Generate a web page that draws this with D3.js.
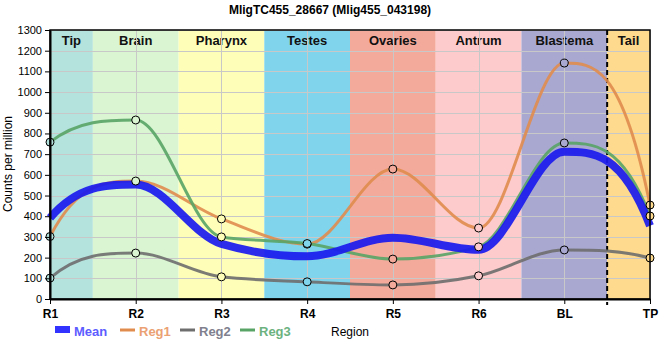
<!DOCTYPE html>
<html><head><meta charset="utf-8">
<script src="https://cdn.jsdelivr.net/npm/d3@7"></script>
<style>body{margin:0;background:#fff}svg{display:block;font-family:"Liberation Sans",Arial,sans-serif}</style>
</head><body><svg id="c" width="660" height="360"></svg>
<script>
const categories = ["R1","R2","R3","R4","R5","R6","BL","TP"];
const meanValues = [392, 553, 266, 206, 296, 238, 712, 354];
const reg1Values = [302, 570, 387, 265, 628, 343, 1140, 454];
const reg2Values = [101, 222, 107, 83, 68, 112, 237, 198];
const reg3Values = [758, 865, 300, 268, 193, 252, 754, 401];
const bandLabels = ["Tip","Brain","Pharynx","Testes","Ovaries","Antrum","Blastema","Tail"];
const bandColors = ["#b4e2dd","#d9f5d1","#fefeb9","#80d5ec","#f4aa9b","#fdcbcb","#a9a8d0","#fdda8d"];
const yTicks = d3.range(0, 1301, 100);
const title = "MligTC455_28667 (Mlig455_043198)";

const svg = d3.select("#c");
const L = 50, R = 650, T = 30, B = 299;
const x = d3.scalePoint().domain(categories).range([L, R]);
const y = d3.scaleLinear().domain([0, 1300]).range([B, T]);
const step = x.step();

// custom Hermite curve: monotone interior slopes, steep ends
function SteepEnds(context){ this._context = context; }
SteepEnds.prototype = {
  areaStart(){ this._line = 0; }, areaEnd(){ this._line = NaN; },
  lineStart(){ this._px = []; this._py = []; },
  point(a, b){ this._px.push(+a); this._py.push(+b); },
  lineEnd(){
    const X = this._px, Y = this._py, n = X.length, c = this._context;
    if (!n) return;
    c.moveTo(X[0], Y[0]);
    if (n < 2) return;
    const s = [], m = new Array(n);
    for (let i = 0; i < n - 1; i++) s.push((Y[i+1]-Y[i])/(X[i+1]-X[i]));
    const sg = v => v < 0 ? -1 : 1;
    for (let i = 1; i < n - 1; i++) {
      const h0 = X[i]-X[i-1], h1 = X[i+1]-X[i], s0 = s[i-1], s1 = s[i];
      const p = (s0*h1 + s1*h0)/(h0+h1);
      m[i] = (sg(s0)+sg(s1))*Math.min(Math.abs(s0), Math.abs(s1), 0.5*Math.abs(p)) || 0;
    }
    m[0] = n > 2 ? 3*s[0] - 2*m[1] : s[0];
    m[n-1] = n > 2 ? 3*s[n-2] - 2*m[n-2] : s[0];
    for (let i = 0; i < n - 1; i++) {
      const h = (X[i+1]-X[i])/3;
      c.bezierCurveTo(X[i]+h, Y[i]+m[i]*h, X[i+1]-h, Y[i+1]-m[i+1]*h, X[i+1], Y[i+1]);
    }
  }
};
const curve = ctx => new SteepEnds(ctx);

// bands
const bandG = svg.append("g");
categories.forEach((c, i) => {
  const x0 = Math.max(L, x(c) - step/2), x1 = Math.min(R, x(c) + step/2);
  bandG.append("rect").attr("x", x0).attr("y", T).attr("width", x1 - x0).attr("height", B - T).attr("fill", bandColors[i]);
  bandG.append("text").attr("x", (x0 + x1)/2).attr("y", 45).attr("text-anchor", "middle")
    .attr("font-size", 13).attr("font-weight", "bold").attr("fill", "#111").text(bandLabels[i]);
});

// grid
const grid = svg.append("g").attr("stroke", "#c8c8c8").attr("stroke-width", 1);
yTicks.forEach(t => grid.append("line").attr("x1", L).attr("x2", R).attr("y1", Math.round(y(t))+0.5).attr("y2", Math.round(y(t))+0.5));
categories.forEach(c => grid.append("line").attr("x1", Math.round(x(c))+0.5).attr("x2", Math.round(x(c))+0.5).attr("y1", T).attr("y2", B));

// dashed separator between BL and TP
const xSep = x("BL") + step/2;
svg.append("line").attr("x1", xSep).attr("x2", xSep).attr("y1", T).attr("y2", B + 6)
  .attr("stroke", "#000").attr("stroke-width", 2).attr("stroke-dasharray", "5,3");

// series
const line = d3.line().x((d, i) => x(categories[i])).y(d => y(d)).curve(curve);
const series = [
  {name: "Reg1", values: reg1Values, color: "#e08c4e", text: "#eba173", w: 3},
  {name: "Reg2", values: reg2Values, color: "#6e6e6e", text: "#80808e", w: 3},
  {name: "Reg3", values: reg3Values, color: "#58a466", text: "#6cb27f", w: 3}
];
series.forEach(s => svg.append("path").attr("d", line(s.values)).attr("fill", "none")
  .attr("stroke", s.color).attr("stroke-width", s.w).attr("opacity", 0.9));
svg.append("path").attr("d", line(meanValues)).attr("fill", "none")
  .attr("stroke", "#1a1aee").attr("stroke-width", 8).attr("opacity", 0.92);

// markers
series.forEach(s => {
  svg.append("g").selectAll("circle").data(s.values).join("circle")
    .attr("cx", (d, i) => x(categories[i])).attr("cy", d => y(d)).attr("r", 4)
    .attr("fill", (d, i) => bandColors[i]).attr("stroke", "#000").attr("stroke-width", 1);
});

// frame
svg.append("rect").attr("x", L).attr("y", T).attr("width", R - L).attr("height", B - T)
  .attr("fill", "none").attr("stroke", "#000").attr("stroke-width", 1.5);

// axes
const yAxis = svg.append("g").attr("transform", `translate(${L},0)`)
  .call(d3.axisLeft(y).tickValues(yTicks).tickFormat(d3.format("d")).tickSize(5).tickSizeOuter(0));
yAxis.select(".domain").attr("stroke-width", 2);
yAxis.selectAll("text").attr("font-size", 11).attr("fill", "#000").attr("font-family", "Liberation Sans, Arial, sans-serif");
const xAxis = svg.append("g").attr("transform", `translate(0,${B})`)
  .call(d3.axisBottom(x).tickSize(5).tickSizeOuter(0));
xAxis.select(".domain").attr("stroke-width", 2);
xAxis.selectAll("text").attr("font-size", 12).attr("font-weight", "bold").attr("fill", "#000")
  .attr("dy", "0.9em").attr("font-family", "Liberation Sans, Arial, sans-serif");

// titles
svg.append("text").attr("x", 330).attr("y", 14).attr("text-anchor", "middle")
  .attr("font-size", 12).attr("font-weight", "bold").text(title);
svg.append("text").attr("transform", "translate(12,164) rotate(-90)").attr("text-anchor", "middle")
  .attr("font-size", 12).text("Counts per million");
svg.append("text").attr("x", 331).attr("y", 336).attr("font-size", 12).text("Region");

// legend
const lg = svg.append("g");
lg.append("rect").attr("x", 55).attr("y", 326).attr("width", 15).attr("height", 7).attr("fill", "#3333ff");
lg.append("text").attr("x", 74).attr("y", 336).attr("font-size", 13).attr("font-weight", "bold").attr("fill", "#5c5cff").text("Mean");
const lx = [120, 180, 240];
series.forEach((s, i) => {
  lg.append("line").attr("x1", lx[i]).attr("x2", lx[i] + 15).attr("y1", 330).attr("y2", 330)
    .attr("stroke", s.color).attr("stroke-width", 3);
  lg.append("text").attr("x", lx[i] + 19).attr("y", 336).attr("font-size", 13).attr("font-weight", "bold")
    .attr("fill", s.text).text(s.name);
});
</script></body></html>
